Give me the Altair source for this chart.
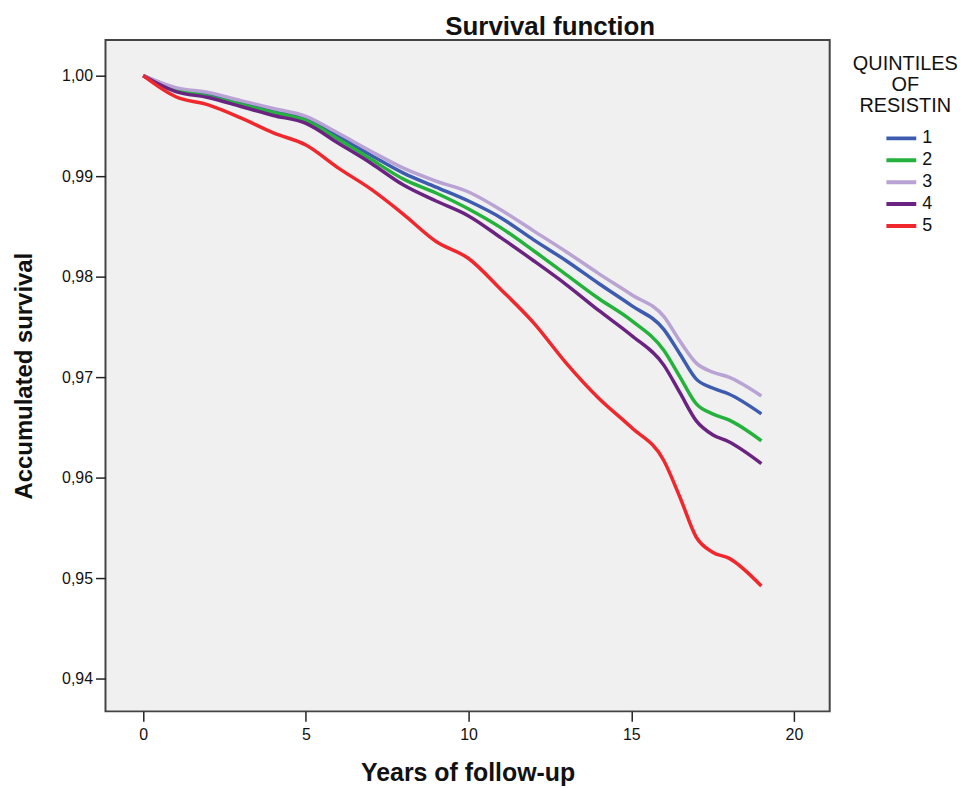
import altair as alt
import pandas as pd

years = [0, 1, 2, 3, 4, 5, 6, 7, 8, 9, 10, 11, 12, 13, 14, 15, 16, 16.5, 17, 17.5, 18, 19]

q1 = [1.0000, 0.99871, 0.99812, 0.99733, 0.99653, 0.99574, 0.99396, 0.99208, 0.99030, 0.98891, 0.98752,
      0.98584, 0.98366, 0.98158, 0.97931, 0.97713, 0.97475, 0.97228, 0.96980, 0.96891, 0.96832, 0.96634]
q2 = [1.0000, 0.99861, 0.99792, 0.99713, 0.99634, 0.99554, 0.99366, 0.99168, 0.98970, 0.98832, 0.98673,
      0.98485, 0.98257, 0.98020, 0.97782, 0.97564, 0.97267, 0.97000, 0.96733, 0.96634, 0.96574, 0.96366]
q3 = [1.0000, 0.99881, 0.99832, 0.99752, 0.99673, 0.99594, 0.99426, 0.99248, 0.99079, 0.98950, 0.98842,
      0.98663, 0.98455, 0.98248, 0.98030, 0.97822, 0.97604, 0.97356, 0.97139, 0.97050, 0.97000, 0.96812]
q4 = [1.0000, 0.99842, 0.99782, 0.99693, 0.99604, 0.99525, 0.99327, 0.99129, 0.98911, 0.98752, 0.98604,
      0.98386, 0.98158, 0.97921, 0.97663, 0.97416, 0.97119, 0.96842, 0.96564, 0.96426, 0.96356, 0.96139]
q5 = [1.0000, 0.99790, 0.99710, 0.99580, 0.99430, 0.99310, 0.99080, 0.98870, 0.98620, 0.98350, 0.98180,
      0.97870, 0.97540, 0.97140, 0.96790, 0.96500, 0.96170, 0.95802, 0.95406, 0.95257, 0.95198, 0.94920]

groups = ["1", "2", "3", "4", "5"]
series = [q1, q2, q3, q4, q5]
colors = ["#3d5cb0", "#25b23c", "#b9a2d4", "#6b2382", "#f0282d"]

rows = []
for g, vals in zip(groups, series):
    for yr, v in zip(years, vals):
        rows.append({"year": yr, "survival": v, "group": g})
df = pd.DataFrame(rows)

font = "Liberation Sans"

chart = alt.Chart(df).mark_line(strokeWidth=3.5, interpolate="monotone").encode(
    x=alt.X("year:Q",
            scale=alt.Scale(domain=[-1.16, 21.1], nice=False, zero=False),
            axis=alt.Axis(values=[0, 5, 10, 15, 20], title="Years of follow-up",
                          grid=False, domain=False, tickSize=10, tickColor="#222",
                          tickWidth=1.5, labelFontSize=16, labelColor="#111",
                          labelPadding=5, titleFontSize=25, titleFontWeight="bold",
                          titlePadding=18, titleColor="#111", labelFont=font,
                          titleFont=font)),
    y=alt.Y("survival:Q",
            scale=alt.Scale(domain=[0.93673, 1.00356], nice=False, zero=False),
            axis=alt.Axis(values=[0.94, 0.95, 0.96, 0.97, 0.98, 0.99, 1.00],
                          labelExpr="replace(format(datum.value, '.2f'), '.', ',')",
                          title="Accumulated survival", grid=False, domain=False,
                          tickSize=10, tickColor="#222", tickWidth=1.5,
                          labelFontSize=16, labelColor="#111", labelPadding=3,
                          titleFontSize=24, titleFontWeight="bold", titlePadding=25,
                          titleColor="#111", labelFont=font, titleFont=font)),
    color=alt.Color("group:N",
                    scale=alt.Scale(domain=groups, range=colors),
                    legend=alt.Legend(title=["QUINTILES", "OF", "RESISTIN"],
                                      orient="none", legendX=751, legendY=14,
                                      titleFontSize=20, titleFontWeight="normal",
                                      titleLineHeight=21,
                                      titleAlign="center", titleAnchor="middle",
                                      titleColor="#111", titleFont=font,
                                      labelFontSize=18, labelColor="#111", labelFont=font,
                                      symbolType="stroke", symbolStrokeWidth=4,
                                      symbolSize=900, symbolOffset=7, labelOffset=4,
                                      clipHeight=20, rowPadding=2, titlePadding=13,
                                      padding=0)),
).properties(
    width=728,
    height=675,
    background="white",
    padding={"left": 4, "top": 4, "right": 5, "bottom": 5},
    title=alt.Title("Survival function", fontSize=26, fontWeight="bold", font=font,
                    color="#111", dx=83, offset=0, anchor="middle"),
).configure_view(
    fill="#f0f0f0", stroke="#444", strokeWidth=2
)

chart.save("out.html", embed_options={"renderer": "svg", "actions": False})
